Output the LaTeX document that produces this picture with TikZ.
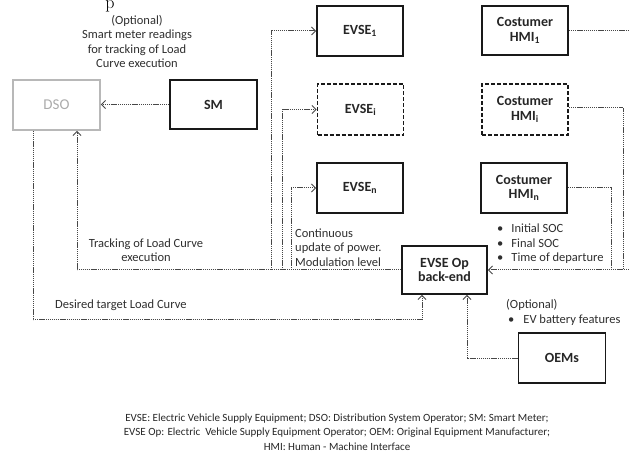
\documentclass[tikz,border=0pt]{standalone}
\usepackage{fontspec}
\setsansfont{Carlito}
\usetikzlibrary{arrows.meta}
\begin{document}
\begin{tikzpicture}[x=1pt,y=-1pt,font=\sffamily,
 box/.style={draw=black!90, line width=1.6pt, inner sep=0pt, align=center,
   minimum width=86pt, minimum height=50pt, text=black!85,
   font=\sffamily\bfseries\fontsize{14}{14.5}\selectfont},
 dbox/.style={box, dash pattern=on 4pt off 2pt},
 conn/.style={draw=black!72, line width=1pt, dash pattern=on 1.3pt off 0.8pt},
 arr/.style={conn, -{Straight Barb[length=4pt,width=8pt]}},
 lbl/.style={font=\sffamily\fontsize{12.5}{14.5}\selectfont, text=black!82, inner sep=0pt},
 captext/.style={font=\sffamily\fontsize{11}{14.5}\selectfont, text=black!85, inner sep=0pt}
]
\useasboundingbox (0,0) rectangle (629,454);

% boxes
\node[box, draw=black!28, text=black!33, font=\sffamily\fontsize{15}{15}\selectfont,
  minimum width=87pt] (dso) at (56.5,105) {DSO};
\node[box, minimum width=87pt, minimum height=49pt] (sm) at (213.5,104.5) {SM};
\node[box] (e1) at (360,31) {EVSE\textsubscript{1}};
\node[dbox, minimum height=51pt] (ei) at (360.5,109.5) {EVSE\textsubscript{i}};
\node[box] (en) at (360,188) {EVSE\textsubscript{n}};
\node[box, minimum height=49pt] (h1) at (525,30.5) {Costumer\\HMI\textsubscript{1}};
\node[dbox, minimum height=51pt] (hi) at (525,109.5) {Costumer\\HMI\textsubscript{i}};
\node[box] (hn) at (524,188) {Costumer\\HMI\textsubscript{n}};
\node[box, minimum width=85pt, minimum height=48pt] (be) at (444.5,270) {EVSE Op\\back-end};
\node[box, minimum width=87pt] (oem) at (562,358) {OEMs};

% helper coordinates
\coordinate (b1) at (271,270);
\coordinate (b2) at (282,270);
\coordinate (b3) at (291,270);
\coordinate (r1) at (629,30.5);
\coordinate (ri) at (623,270);
\coordinate (rn) at (611,270);
\coordinate (re) at (629,270);

% connectors
\draw[arr] (sm.west) -- (dso.east |- sm.west);
\draw[arr] (be.west) -| ([xshift=20.5pt]dso.south);
\draw[arr] (b1) |- (e1.west);
\draw[arr] (b2) |- (ei.west);
\draw[arr] (b3) |- (en.west);
\draw[arr] ([xshift=-23.5pt]dso.south) -- ++(0,189) -| ([xshift=-22.5pt]be.south);
\draw[arr] (oem.west) -| ([xshift=22.5pt]be.south);
\draw[conn] (h1.east) -- (r1);
\draw[conn] (hi.east |- 0,108) -| (ri);
\draw[conn] (hn.east) -| (rn);
\draw[arr] (re) -- (be.east);

% labels
\node[lbl, align=center] (t1) at (137,41.5) {(Optional)\\Smart meter readings\\for tracking of Load\\Curve execution};
\node[lbl, align=center] (t2) at (146,250) {Tracking of Load Curve\\execution};
\node[lbl, anchor=west] (t3) at (55,305) {Desired target Load Curve};
\node[lbl, align=left, anchor=west] (t4) at (295,247.5) {Continuous\\update of power.\\Modulation level};
\node[lbl, align=left, anchor=west] (t5) at (497,244) {\textbullet\hspace{8pt}Initial SOC\\\textbullet\hspace{8pt}Final SOC\\\textbullet\hspace{8pt}Time of departure};
\node[lbl, align=left, anchor=west] (t6) at (506,312.5) {(Optional)\\\hspace{2pt}\textbullet\hspace{9pt}EV battery features};
\node[captext, align=center] (cp) at (337,432) {EVSE: Electric Vehicle Supply Equipment; DSO: Distribution System Operator; SM: Smart Meter;\\EVSE Op: Electric\ \ Vehicle Supply Equipment Operator; OEM: Original Equipment Manufacturer;\\HMI: Human - Machine Interface};
\node[font=\rmfamily\fontsize{18}{18}\selectfont, anchor=base, inner sep=0pt] (pp) at (110,9) {p};
\end{tikzpicture}
\end{document}
